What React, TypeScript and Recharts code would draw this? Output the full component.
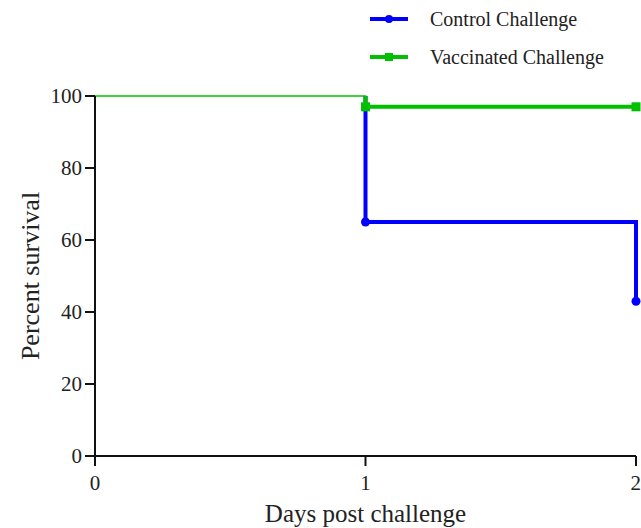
import React from "react";
import { LineChart, Line, XAxis, YAxis } from "recharts";

const days = [0, 1, 2];
const controlValues = [100, 65, 43];
const vaccinatedValues = [100, 97, 97];
const yTicks = [0, 20, 40, 60, 80, 100];
const xTicks = [0, 1, 2];
const seriesNames = ["Control Challenge", "Vaccinated Challenge"];

// thick part of each curve starts at first event; leading point carries the previous level
const buildThick = (vals: number[]) => [
  { day: days[1], v: vals[0], event: false },
  ...days.slice(1).map((d, i) => ({ day: d, v: vals[i + 1], event: true })),
];
const controlThick = buildThick(controlValues);
const vaccinatedThick = buildThick(vaccinatedValues);
const sharedStart = days.slice(0, 2).map((d, i) => ({ day: d, v: vaccinatedValues[i] }));

const BLUE = "#0000FF";
const GREEN = "#00C000";
const FONT = "'Liberation Serif', 'Times New Roman', serif";

const CircleDot = (props: any) => {
  const { cx, cy, payload, index } = props;
  if (!payload || !payload.event) return <g key={`c${index}`} />;
  return <circle key={`c${index}`} cx={cx} cy={cy} r={4.5} fill={BLUE} />;
};
const SquareDot = (props: any) => {
  const { cx, cy, payload, index } = props;
  if (!payload || !payload.event) return <g key={`s${index}`} />;
  return <rect key={`s${index}`} x={cx - 4.5} y={cy - 4.5} width={9} height={9} fill={GREEN} />;
};

const LegendBox = () => (
  <svg width={281} height={80} style={{ display: "block", position: "absolute", left: 360, top: 0 }}>
    <line x1={10} x2={48} y1={19} y2={19} stroke={BLUE} strokeWidth={4} />
    <circle cx={29} cy={19} r={4} fill={BLUE} />
    <text x={70} y={26} fontFamily={FONT} fontSize={20} fill="#222">{seriesNames[0]}</text>
    <line x1={10} x2={48} y1={57} y2={57} stroke={GREEN} strokeWidth={4} />
    <rect x={25} y={53} width={8} height={8} fill={GREEN} />
    <text x={70} y={64} fontFamily={FONT} fontSize={20} fill="#222">{seriesNames[1]}</text>
  </svg>
);

export default function App() {
  return (
    <div style={{ position: "absolute", left: 0, top: 0, width: 641, height: 528, background: "#fff" }}>
      <LineChart width={641} height={528} margin={{ top: 96, right: 5, left: 0, bottom: 0 }}>
        <XAxis
          type="number"
          dataKey="day"
          domain={[0, 2]}
          ticks={xTicks}
          allowDuplicatedCategory={false}
          height={72}
          tickSize={10}
          tickMargin={9}
          axisLine={{ stroke: "#111", strokeWidth: 2 }}
          tickLine={{ stroke: "#111", strokeWidth: 2 }}
          tick={{ fontFamily: FONT, fontSize: 21, fill: "#222" }}
          label={{ value: "Days post challenge", position: "insideBottom", offset: 6, style: { fontFamily: FONT, fontSize: 25, fill: "#222" } }}
        />
        <YAxis
          type="number"
          dataKey="v"
          domain={[0, 100]}
          ticks={yTicks}
          width={95}
          tickSize={10}
          tickMargin={3}
          axisLine={{ stroke: "#111", strokeWidth: 2 }}
          tickLine={{ stroke: "#111", strokeWidth: 2 }}
          tick={{ fontFamily: FONT, fontSize: 21, fill: "#222" }}
          label={{ value: "Percent survival", angle: -90, position: "insideLeft", offset: 30, style: { fontFamily: FONT, fontSize: 26, fill: "#222", textAnchor: "middle" } }}
        />
        <Line
          data={controlThick}
          dataKey="v"
          type="stepAfter"
          stroke={BLUE}
          strokeWidth={4}
          dot={<CircleDot />}
          activeDot={false}
          isAnimationActive={false}
          legendType="none"
        />
        <Line
          data={vaccinatedThick}
          dataKey="v"
          type="stepAfter"
          stroke={GREEN}
          strokeWidth={4}
          dot={<SquareDot />}
          activeDot={false}
          isAnimationActive={false}
          legendType="none"
        />
        <Line
          data={sharedStart}
          dataKey="v"
          type="stepAfter"
          stroke={GREEN}
          strokeWidth={1.5}
          dot={false}
          activeDot={false}
          isAnimationActive={false}
          legendType="none"
        />
      </LineChart>
      <LegendBox />
    </div>
  );
}
